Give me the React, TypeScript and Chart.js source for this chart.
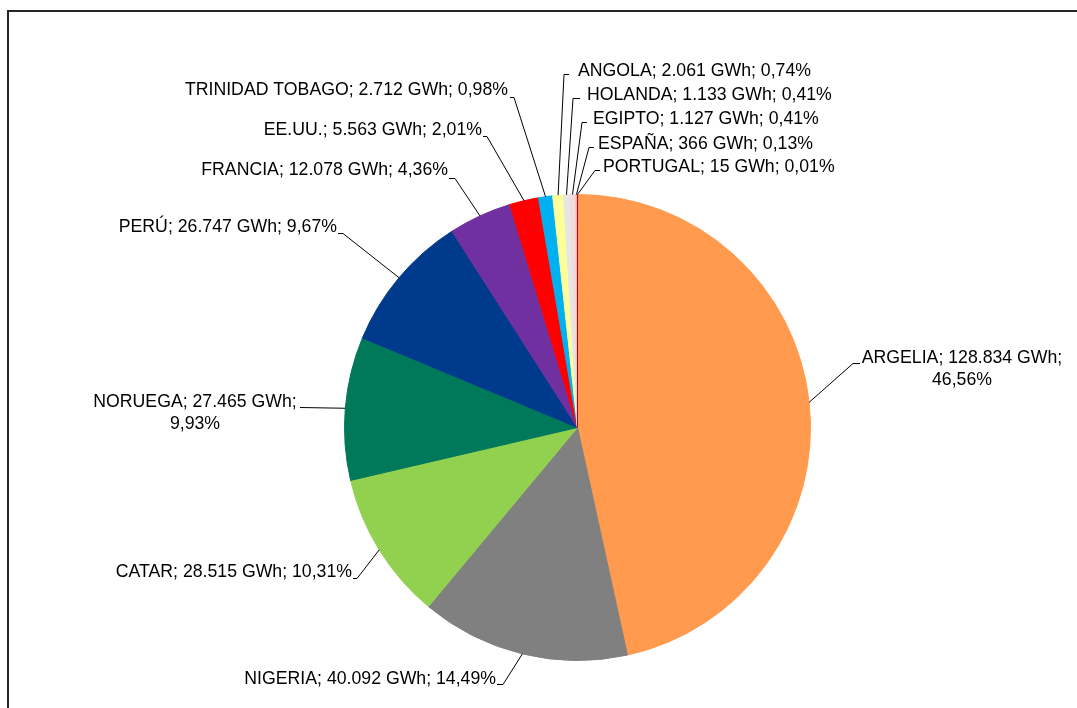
import React, { useEffect, useRef } from "react";
import { Chart, registerables } from "chart.js";

Chart.register(...registerables);

// ---- data ----
const countries = [
  "ARGELIA",
  "NIGERIA",
  "CATAR",
  "NORUEGA",
  "PERÚ",
  "FRANCIA",
  "EE.UU.",
  "TRINIDAD TOBAGO",
  "ANGOLA",
  "HOLANDA",
  "EGIPTO",
  "ESPAÑA",
  "PORTUGAL",
];
const gwh = [128834, 40092, 28515, 27465, 26747, 12078, 5563, 2712, 2061, 1133, 1127, 366, 15];
const gwhText = ["128.834", "40.092", "28.515", "27.465", "26.747", "12.078", "5.563", "2.712", "2.061", "1.133", "1.127", "366", "15"];
const pctText = ["46,56%", "14,49%", "10,31%", "9,93%", "9,67%", "4,36%", "2,01%", "0,98%", "0,74%", "0,41%", "0,41%", "0,13%", "0,01%"];
const sliceColors = [
  "#FF9A4E",
  "#808080",
  "#92D050",
  "#00785A",
  "#003A8C",
  "#7030A0",
  "#FF0000",
  "#00B0F0",
  "#FFFF99",
  "#E6E6E6",
  "#F2DCDB",
  "#F4C6CC",
  "#C00000",
];

// ---- label layout (annotation positions) ----
// x,y: text anchor (y = cap centre of first line); align; twoLine: break after "GWh;"
// stub: [textSideX, sliceSideX, y]
type LabelPos = { x: number; y: number; align: CanvasTextAlign; twoLine?: boolean; stub: [number, number, number] };
const labelLayout: LabelPos[] = [
  { x: 962, y: 356.5, align: "center", twoLine: true, stub: [860, 853, 363] },
  { x: 496, y: 677.5, align: "right", stub: [497, 503, 684] },
  { x: 352, y: 570.5, align: "right", stub: [353, 357, 578] },
  { x: 195, y: 401, align: "center", twoLine: true, stub: [300, 300, 407] },
  { x: 337, y: 225.5, align: "right", stub: [338, 343, 233] },
  { x: 448, y: 169, align: "right", stub: [449, 455, 178] },
  { x: 482, y: 129, align: "right", stub: [483, 487, 136] },
  { x: 508, y: 88.5, align: "right", stub: [510, 514, 97] },
  { x: 578, y: 69.5, align: "left", stub: [569, 564, 74] },
  { x: 587, y: 94, align: "left", stub: [580, 573, 98] },
  { x: 593, y: 118, align: "left", stub: [587, 582, 122] },
  { x: 598, y: 143, align: "left", stub: [594, 589, 147] },
  { x: 603, y: 166, align: "left", stub: [600, 595, 170] },
];

const FONT_SIZE = 17.7;
const LINE_GAP = 22;

const leaderLabels = {
  id: "leaderLabels",
  afterDatasetsDraw(chart: any) {
    const ctx: CanvasRenderingContext2D = chart.ctx;
    const meta = chart.getDatasetMeta(0);
    ctx.save();
    ctx.font = `${FONT_SIZE}px "Liberation Sans", Arial, sans-serif`;
    ctx.fillStyle = "#000";
    ctx.strokeStyle = "#000";
    ctx.lineWidth = 1;
    ctx.textBaseline = "alphabetic";
    const capHalf = FONT_SIZE * 0.358;
    meta.data.forEach((arc: any, i: number) => {
      const p = arc.getProps(["x", "y", "startAngle", "endAngle", "outerRadius"], true);
      const mid = (p.startAngle + p.endAngle) / 2;
      const px = p.x + Math.cos(mid) * p.outerRadius;
      const py = p.y + Math.sin(mid) * p.outerRadius;
      const L = labelLayout[i];
      const sy = Math.round(L.stub[2]) + 0.5;
      ctx.beginPath();
      ctx.moveTo(L.stub[0], sy);
      ctx.lineTo(L.stub[1], sy);
      ctx.lineTo(px, py);
      ctx.stroke();

      const full = `${countries[i]}; ${gwhText[i]} GWh; ${pctText[i]}`;
      const lines = L.twoLine ? [`${countries[i]}; ${gwhText[i]} GWh;`, pctText[i]] : [full];
      ctx.textAlign = L.align;
      lines.forEach((t, k) => {
        ctx.fillText(t, L.x, L.y + capHalf + k * LINE_GAP);
      });
    });
    ctx.restore();
  },
  afterDraw(chart: any) {
    const ctx: CanvasRenderingContext2D = chart.ctx;
    ctx.save();
    ctx.fillStyle = "#262626";
    ctx.fillRect(7, 10, 1070, 2);
    ctx.fillRect(7, 10, 2, 698);
    ctx.restore();
  },
};

export default function App() {
  const ref = useRef<HTMLCanvasElement | null>(null);
  useEffect(() => {
    if (!ref.current) return;
    const chart = new Chart(ref.current, {
      type: "pie",
      data: {
        labels: countries,
        datasets: [
          {
            data: gwh,
            backgroundColor: sliceColors,
            borderColor: sliceColors,
            borderWidth: 1,
            hoverBorderWidth: 1,
            hoverOffset: 0,
            offset: 0,
          },
        ],
      },
      options: {
        animation: false,
        responsive: true,
        maintainAspectRatio: false,
        events: [],
        layout: { padding: { left: 344, right: 266, top: 194, bottom: 47 } },
        plugins: {
          legend: { display: false },
          tooltip: { enabled: false },
          title: { display: false },
        },
      },
      plugins: [leaderLabels],
    });
    return () => chart.destroy();
  }, []);
  return (
    <div style={{ position: "absolute", left: 0, top: 0, width: 1077, height: 708, background: "#fff" }}>
      <canvas ref={ref} />
    </div>
  );
}
